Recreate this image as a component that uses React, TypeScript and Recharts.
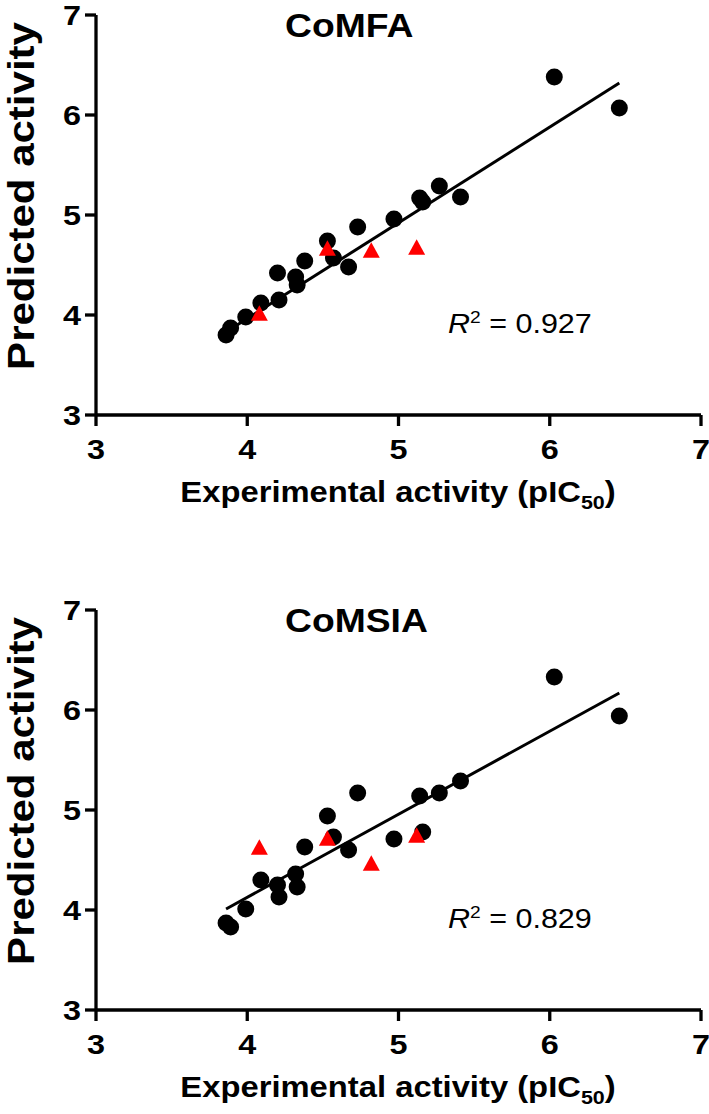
import React from 'react';
import { ScatterChart, Scatter, XAxis, YAxis, ReferenceLine } from 'recharts';

// Experimental pIC50 (shared by both models)
const EXP_TRAIN = [3.86, 3.89, 3.99, 4.09, 4.2, 4.21, 4.32, 4.33, 4.38, 4.53, 4.57, 4.67, 4.73, 4.97, 5.14, 5.16, 5.27, 5.41, 6.03, 6.46];
const EXP_TEST = [4.08, 4.53, 4.82, 5.12];

// CoMFA predictions
const COMFA_TRAIN = [3.8, 3.87, 3.98, 4.12, 4.42, 4.15, 4.38, 4.3, 4.54, 4.74, 4.57, 4.48, 4.88, 4.96, 5.17, 5.13, 5.29, 5.18, 6.38, 6.07];
const COMFA_TEST = [4.02, 4.67, 4.65, 4.68];
const COMFA_FIT_X = [3.87, 6.46];
const COMFA_FIT_Y = [3.84, 6.32];

// CoMSIA predictions
const COMSIA_TRAIN = [3.87, 3.83, 4.01, 4.3, 4.25, 4.13, 4.36, 4.23, 4.63, 4.94, 4.73, 4.6, 5.17, 4.71, 5.14, 4.78, 5.17, 5.29, 6.33, 5.94];
const COMSIA_TEST = [4.63, 4.72, 4.47, 4.75];
const COMSIA_FIT_X = [3.86, 6.46];
const COMSIA_FIT_Y = [4.01, 6.17];

const AXIS_TICKS = [3, 4, 5, 6, 7];
const TITLES = ['CoMFA', 'CoMSIA'];
const R2_VALUES = ['0.927', '0.829'];
const X_LABEL = 'Experimental activity (pIC';
const X_LABEL_SUB = '50';
const Y_LABEL = 'Predicted activity';

const FONT = '"Liberation Sans", Arial, Helvetica, sans-serif';
const SX = 1.13;
const TICK_SX = 1.2;
const RED = '#ff0000';

const W = 709;
const H = 595;

const XTick = (props: any) => {
  const { x, y, payload } = props;
  return (
    <g transform={`translate(${x},${y}) scale(${TICK_SX},1)`}>
      <text textAnchor="middle" dy="0.71em" fontSize={27} fontWeight="bold" fill="#000" fontFamily={FONT}>
        {payload.value}
      </text>
    </g>
  );
};

const YTick = (props: any) => {
  const { x, y, payload } = props;
  return (
    <g transform={`translate(${x},${y}) scale(${TICK_SX},1)`}>
      <text textAnchor="end" dy="0.355em" fontSize={27} fontWeight="bold" fill="#000" fontFamily={FONT}>
        {payload.value}
      </text>
    </g>
  );
};

const Dot = (p: any) => <circle cx={p.cx} cy={p.cy} r={8.5} fill="#000" />;
const Tri = (p: any) => {
  const w = 17;
  const h = 15.5;
  const { cx, cy } = p;
  return (
    <polygon
      points={`${cx},${cy - h / 2} ${cx + w / 2},${cy + h / 2} ${cx - w / 2},${cy + h / 2}`}
      fill={RED}
    />
  );
};

type PanelProps = {
  title: string;
  r2: string;
  train: number[];
  test: number[];
  fitX: number[];
  fitY: number[];
};

const Panel = ({ title, r2, train, test, fitX, fitY }: PanelProps) => {
  const trainData = EXP_TRAIN.map((x, i) => ({ x, y: train[i] }));
  const testData = EXP_TEST.map((x, i) => ({ x, y: test[i] }));
  return (
    <ScatterChart width={W} height={H} margin={{ top: 15, right: 8, left: 0, bottom: 0 }}>
      <XAxis
        type="number"
        dataKey="x"
        domain={[3, 7]}
        ticks={AXIS_TICKS}
        height={180}
        tickSize={11}
        tickMargin={14}
        axisLine={{ stroke: '#000', strokeWidth: 3.3 }}
        tickLine={{ stroke: '#000', strokeWidth: 3.3 }}
        tick={<XTick />}
        allowDataOverflow
      />
      <YAxis
        type="number"
        dataKey="y"
        domain={[3, 7]}
        ticks={AXIS_TICKS}
        width={96}
        tickSize={11}
        tickMargin={4}
        axisLine={{ stroke: '#000', strokeWidth: 3.3 }}
        tickLine={{ stroke: '#000', strokeWidth: 3.3 }}
        tick={<YTick />}
        allowDataOverflow
      />
      <Scatter data={trainData} shape={Dot} isAnimationActive={false} />
      <ReferenceLine
        segment={[
          { x: fitX[0], y: fitY[0] },
          { x: fitX[1], y: fitY[1] },
        ]}
        stroke="#000"
        strokeWidth={3}
      />
      <Scatter data={testData} shape={Tri} isAnimationActive={false} />
      <text
        transform={`translate(285,37) scale(${SX},1)`}
        fontSize={33}
        fontWeight="bold"
        fontFamily={FONT}
        fill="#000"
      >
        {title}
      </text>
      <text
        transform={`translate(448,333) scale(${SX},1)`}
        fontSize={27}
        fontFamily={FONT}
        fill="#000"
      >
        <tspan fontStyle="italic">R</tspan>
        <tspan dy={-10} fontSize={17}>2</tspan>
        <tspan dy={10}>{` = ${r2}`}</tspan>
      </text>
      <text
        transform={`translate(398,502) scale(${SX},1)`}
        textAnchor="middle"
        fontSize={29}
        fontWeight="bold"
        fontFamily={FONT}
        fill="#000"
      >
        {X_LABEL}
        <tspan dy={7} fontSize={19}>{X_LABEL_SUB}</tspan>
        <tspan dy={-7}>)</tspan>
      </text>
      <text
        transform={`translate(34,196) scale(0.87,1) rotate(-90)`}
        textAnchor="middle"
        fontSize={42}
        fontWeight="bold"
        fontFamily={FONT}
        fill="#000"
      >
        {Y_LABEL}
      </text>
    </ScatterChart>
  );
};

export default function App() {
  return (
    <div style={{ position: 'absolute', left: 0, top: 0, width: W, height: 1114, background: '#fff' }}>
      <div style={{ position: 'absolute', left: 0, top: 0 }}>
        <Panel title={TITLES[0]} r2={R2_VALUES[0]} train={COMFA_TRAIN} test={COMFA_TEST} fitX={COMFA_FIT_X} fitY={COMFA_FIT_Y} />
      </div>
      <div style={{ position: 'absolute', left: 0, top: 595 }}>
        <Panel title={TITLES[1]} r2={R2_VALUES[1]} train={COMSIA_TRAIN} test={COMSIA_TEST} fitX={COMSIA_FIT_X} fitY={COMSIA_FIT_Y} />
      </div>
    </div>
  );
}
